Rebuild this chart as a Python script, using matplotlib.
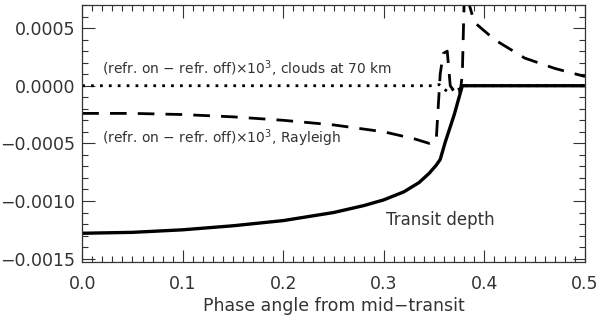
import numpy as np
import matplotlib.pyplot as plt
from matplotlib.ticker import MultipleLocator

# transit depth (solid)
phase_depth = [0.0, 0.05, 0.10, 0.15, 0.20, 0.25, 0.28, 0.30, 0.32, 0.335, 0.345, 0.352,
               0.356, 0.361, 0.37, 0.378, 0.50]
depth = [-0.00128, -0.001272, -0.00125, -0.001215, -0.00117, -0.00110, -0.00104, -0.00099,
         -0.00092, -0.00084, -0.00076, -0.00069, -0.00064, -0.00049, -0.00025, 0.0, 0.0]

# (refr. on - refr. off) x 1e3, Rayleigh (dashed)
phase_ray = [0.0, 0.05, 0.10, 0.15, 0.20, 0.25, 0.30, 0.33, 0.345, 0.352, 0.356, 0.359,
             0.363, 0.366, 0.370, 0.373, 0.376, 0.378, 0.380, 0.385, 0.39, 0.41, 0.44,
             0.47, 0.50]
ray = [-0.00024, -0.00024, -0.00025, -0.00027, -0.00030, -0.00034, -0.00040, -0.00046,
       -0.00050, -0.00048, 0.00010, 0.00028, 0.00030, 0.0, -0.00005, 0.0, -0.00005,
       0.00010, 0.00080, 0.00070, 0.00055, 0.00040, 0.00024, 0.00015, 0.00008]

# (refr. on - refr. off) x 1e3, clouds at 70 km (dotted)
phase_cld = [0.0, 0.35, 0.355, 0.36, 0.365, 0.37, 0.375, 0.38, 0.50]
cld = [0.0, 0.0, 0.00001, -0.00003, -0.00006, -0.00002, -0.00005, 0.0, 0.0]

fig = plt.figure(figsize=(6, 3.15), dpi=100)
ax = fig.add_axes([0.137, 0.168, 0.838, 0.816])

ax.plot(phase_cld, cld, color='black', lw=2, linestyle=(0, (1, 2.2)))
ax.plot(phase_ray, ray, color='black', lw=2, linestyle=(0, (6, 4)))
ax.plot(phase_depth, depth, color='black', lw=2.4)

ax.set_xlim(0, 0.5)
ax.set_ylim(-0.00153, 0.0007)
ax.xaxis.set_minor_locator(MultipleLocator(0.01))
ax.yaxis.set_minor_locator(MultipleLocator(0.0001))
ax.set_xticks([0, 0.1, 0.2, 0.3, 0.4, 0.5])
ax.set_xticklabels(['0.0', '0.1', '0.2', '0.3', '0.4', '0.5'])
ax.set_yticks([-0.0015, -0.0010, -0.0005, 0.0, 0.0005])
ax.set_yticklabels(['\u22120.0015', '\u22120.0010', '\u22120.0005', '0.0000', '0.0005'])
ax.tick_params(which='both', direction='in', top=True, right=True, labelsize=12.5,
               color='#333333', width=0.8)
ax.tick_params(which='major', length=9)
ax.tick_params(which='minor', length=4.5)
ax.tick_params(axis='x', which='major', pad=9)
ax.tick_params(axis='y', which='major', pad=5)
for s in ax.spines.values():
    s.set_linewidth(0.9)
    s.set_color('#333333')

ax.set_xlabel('Phase angle from mid\u2212transit', fontsize=12.5, labelpad=3, color='#333333')

ax.text(0.02, 0.00010, '(refr. on \u2212 refr. off)\u00d710$^3$, clouds at 70 km',
        fontsize=10, color='#333333')
ax.text(0.02, -0.00050, '(refr. on \u2212 refr. off)\u00d710$^3$, Rayleigh',
        fontsize=10, color='#333333')
ax.text(0.302, -0.00121, 'Transit depth', fontsize=12, color='#333333')

for lbl in ax.get_xticklabels() + ax.get_yticklabels():
    lbl.set_color('#333333')

fig.savefig('out.png', dpi=100)
